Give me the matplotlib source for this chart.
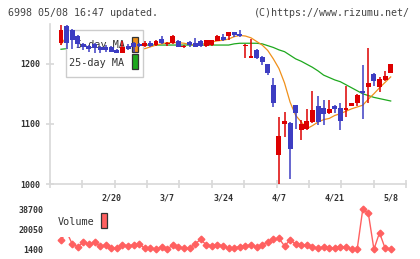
import numpy as np
import matplotlib
matplotlib.use("Agg")
import matplotlib.pyplot as plt
from matplotlib.patches import Rectangle

# daily OHLC, 2/6 .. 5/8 (60 trading days)
opens = [1235, 1262, 1256, 1246, 1232, 1229, 1233, 1228, 1227, 1228,
         1222, 1218, 1230, 1234, 1232, 1229, 1235, 1231, 1241, 1233,
         1235, 1238, 1228, 1236, 1234, 1238, 1229, 1231, 1238, 1245,
         1246, 1252, 1249, 1230, 1210, 1223, 1211, 1199, 1164, 1048,
         1100, 1102, 1131, 1090, 1092, 1103, 1130, 1127, 1118, 1130,
         1127, 1123, 1130, 1134, 1154, 1162, 1183, 1162, 1173, 1185]
closes = [1256, 1235, 1240, 1233, 1227, 1225, 1226, 1222, 1222, 1220,
          1218, 1228, 1225, 1228, 1229, 1235, 1230, 1237, 1235, 1235,
          1246, 1228, 1229, 1231, 1228, 1229, 1239, 1239, 1246, 1240,
          1252, 1247, 1246, 1231, 1213, 1210, 1203, 1184, 1134, 1079,
          1105, 1058, 1118, 1100, 1105, 1123, 1103, 1116, 1125, 1125,
          1105, 1127, 1134, 1148, 1152, 1168, 1172, 1174, 1179, 1199]
highs = [1264, 1264, 1258, 1248, 1234, 1231, 1235, 1230, 1231, 1230,
         1224, 1237, 1232, 1236, 1234, 1237, 1237, 1240, 1246, 1236,
         1247, 1240, 1231, 1238, 1242, 1239, 1240, 1240, 1248, 1249,
         1253, 1253, 1256, 1232, 1241, 1224, 1212, 1200, 1177, 1112,
         1119, 1103, 1132, 1106, 1124, 1154, 1146, 1139, 1140, 1131,
         1134, 1163, 1135, 1149, 1198, 1226, 1184, 1178, 1188, 1200]
lows = [1231, 1224, 1224, 1226, 1222, 1220, 1218, 1218, 1220, 1219,
        1217, 1217, 1222, 1219, 1227, 1228, 1228, 1229, 1232, 1229,
        1232, 1227, 1226, 1228, 1227, 1227, 1228, 1230, 1237, 1238,
        1239, 1245, 1245, 1209, 1210, 1208, 1198, 1181, 1128, 1000,
        1078, 1009, 1091, 1073, 1090, 1102, 1098, 1098, 1117, 1118,
        1089, 1111, 1129, 1130, 1108, 1134, 1163, 1153, 1171, 1184]

ma5 = [1232, 1245, 1248, 1245, 1240, 1234, 1229, 1226, 1224, 1223,
       1222, 1222, 1223, 1224, 1225, 1225, 1228, 1231, 1233, 1235,
       1235, 1235, 1234, 1232, 1231, 1232, 1234, 1236, 1238, 1239,
       1241, 1245, 1247, 1246, 1243, 1237, 1231, 1222, 1208, 1192,
       1168, 1136, 1114, 1103, 1092, 1097, 1103, 1107, 1109, 1114,
       1117, 1121, 1125, 1128, 1131, 1141, 1150, 1160, 1169, 1178]
ma25 = [1224, 1225, 1226, 1227, 1227, 1228, 1228, 1229, 1229, 1229,
        1230, 1230, 1230, 1230, 1231, 1231, 1231, 1231, 1231, 1231,
        1231, 1231, 1231, 1231, 1231, 1231, 1231, 1231, 1231, 1231,
        1231, 1233, 1234, 1234, 1234, 1234, 1233, 1230, 1227, 1223,
        1220, 1214, 1208, 1204, 1199, 1194, 1188, 1181, 1177, 1173,
        1170, 1165, 1160, 1155, 1150, 1147, 1144, 1142, 1140, 1138]

volume = [10070, 17800, 6340, 3820, 7930, 6340, 7930, 4480, 5410, 2330,
          2330, 5410, 4760, 5410, 6340, 2330, 2330, 1400, 3820, 1400,
          5410, 3820, 2330, 2330, 6340, 10730, 5410, 4760, 5410, 4760,
          2330, 2890, 3820, 4760, 5410, 3820, 5410, 8490, 10730, 11660,
          4480, 10070, 6340, 5410, 5410, 3820, 2330, 3820, 2330, 2890,
          3820, 3820, 1400, 1400, 38700, 34970, 1400, 16880, 2330, 1400]

date_ticks = [9, 19, 29, 39, 49, 59]
date_labels = ["2/20", "3/7", "3/24", "4/7", "4/21", "5/8"]
price_ticks = [1000, 1100, 1200]
vol_ticks = [1400, 20050, 38700]

W, H = 420, 259
MONO = "DejaVu Sans Mono"
UP = "#dd0000"
DOWN = "#3d3dc2"
ORANGE = "#f0901a"
GREEN = "#1ea81e"
VOLC = "#ff6060"
AXC = "#d8d8d8"


def fx(px):
    return px / W


def fy(py):
    return 1 - py / H


fig = plt.figure(figsize=(W / 100, H / 100), dpi=100)
fig.patch.set_facecolor("white")

x = np.arange(len(closes))
xlim = ((50 - 61) / 5.588, (406 - 61) / 5.588)

# ---- price panel ----
ax = fig.add_axes([fx(50), fy(184), fx(406) - fx(50), fy(24) - fy(184)])
ax.set_xlim(*xlim)
ax.set_ylim(1000, 1266)
for s in ["top", "right"]:
    ax.spines[s].set_visible(False)
for s in ["left", "bottom"]:
    ax.spines[s].set_color(AXC)
    ax.spines[s].set_linewidth(1.2)

ax.plot(x, ma25, color=GREEN, lw=0.9, zorder=1)
ax.plot(x, ma5, color=ORANGE, lw=0.9, zorder=1)

o = np.array(opens); c = np.array(closes)
cols = [UP if cc >= oo else DOWN for oo, cc in zip(o, c)]
ax.vlines(x, lows, highs, colors=cols, lw=1.1, zorder=3)
body_lo = np.minimum(o, c)
body_h = np.maximum(np.abs(c - o), 1.8)
ax.bar(x, body_h, bottom=body_lo, width=0.88, color=cols, lw=0, zorder=3)

ax.set_yticks(price_ticks)
ax.set_yticklabels([str(t) for t in price_ticks])
ax.set_xticks(np.linspace(xlim[0], xlim[1], 12))
ax.set_xticklabels([])
ax.set_xticks(date_ticks, minor=True)
ax.set_xticklabels(date_labels, minor=True)
ax.tick_params(axis="both", which="major", direction="inout", length=5.8,
               color=AXC, width=1.2)
ax.tick_params(axis="y", labelsize=6, labelcolor="#333", pad=4.3)
ax.tick_params(axis="x", which="minor", length=0, pad=7, labelsize=6,
               labelcolor="#333")
for lab in ax.get_yticklabels() + ax.get_xticklabels(minor=True):
    lab.set_family(MONO)
    lab.set_fontweight("bold")

# legend box (under the candles, over the MA lines)
tf = fig.transFigure
ax.add_patch(Rectangle((fx(65.7), fy(77)), fx(143.3) - fx(65.7), fy(30) - fy(77),
                       transform=tf, facecolor="white", edgecolor="#cccccc",
                       lw=1, zorder=2))
ax.text(fx(124.5), fy(45), "5-day MA", transform=tf, ha="right", va="center",
        family=MONO, size=7.3, color="#333", zorder=2.5)
ax.text(fx(124.5), fy(63), "25-day MA", transform=tf, ha="right", va="center",
        family=MONO, size=7.3, color="#333", zorder=2.5)
ax.add_patch(Rectangle((fx(131.7), fy(52.3)), fx(6), fy(0) - fy(15), transform=tf,
                       facecolor=ORANGE, edgecolor="#333", lw=0.9, zorder=2.5))
ax.add_patch(Rectangle((fx(131.7), fy(69)), fx(6), fy(0) - fy(15), transform=tf,
                       facecolor=GREEN, edgecolor="#333", lw=0.9, zorder=2.5))

# ---- volume panel ----
vax = fig.add_axes([fx(50), fy(249.3), fx(406) - fx(50), fy(209.3) - fy(249.3)])
vax.set_xlim(*xlim)
vax.set_ylim(1400, 38700)
for s in vax.spines.values():
    s.set_visible(False)
vax.plot(x, volume, color=VOLC, lw=1, marker="D", ms=3.4, mec=VOLC, mfc=VOLC,
         clip_on=False, zorder=1)
vax.set_xticks([])
vax.set_yticks(vol_ticks)
vax.set_yticklabels([str(t) for t in vol_ticks])
vax.tick_params(axis="y", length=0, pad=4.5, labelsize=6, labelcolor="#333")
for lab in vax.get_yticklabels():
    lab.set_family(MONO)
    lab.set_fontweight("bold")

vax.add_patch(Rectangle((fx(52), fy(237.3)), fx(112) - fx(52), fy(205) - fy(237.3),
                        transform=tf, facecolor="white", edgecolor="none",
                        zorder=2, clip_on=False))
vax.text(fx(58), fy(221.7), "Volume", transform=tf, ha="left", va="center",
         family=MONO, size=7.3, color="#333", zorder=3)
vax.add_patch(Rectangle((fx(101), fy(228)), fx(6), fy(0) - fy(15), transform=tf,
                        facecolor=VOLC, edgecolor="#333", lw=0.9, zorder=3,
                        clip_on=False))

# ---- header ----
fig.text(fx(8), fy(12.5), "6998 05/08 16:47 updated.", ha="left", va="center",
         family=MONO, size=7.2, color="#444")
fig.text(fx(410), fy(12.5), "(C)https://www.rizumu.net/", ha="right", va="center",
         family=MONO, size=7.2, color="#444")

fig.savefig("out.png", dpi=100)
